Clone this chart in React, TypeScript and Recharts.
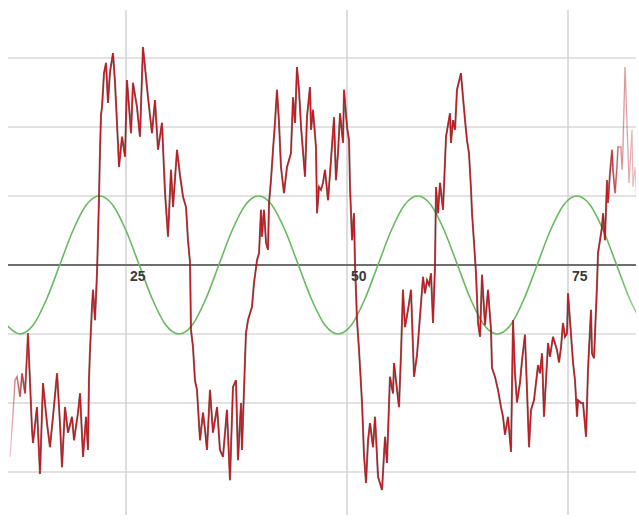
import React from 'react';
import {
  ComposedChart,
  Line,
  XAxis,
  YAxis,
  ReferenceLine,
  Scatter,
} from 'recharts';

// x ticks (vertical grid) and y ticks (horizontal grid)
const xTicks = [25, 50, 75];
const xTickLabels = ['25', '50', '75'];
const yTicks = [-3, -2, -1, 0, 1, 2, 3];

// green reference sine, sampled every 1.5 units starting at x = 11.5
const greenStart = 11.5;
const greenStep = 1.5;
const greenValues = [
  -0.87, -1, -0.87, -0.5, 0, 0.5, 0.87, 1, 0.87, 0.5, 0, -0.5,
  -0.87, -1, -0.87, -0.5, 0, 0.5, 0.87, 1, 0.87, 0.5, 0, -0.5,
  -0.87, -1, -0.87, -0.5, 0, 0.5, 0.87, 1, 0.87, 0.5, 0, -0.5,
  -0.87, -1, -0.87, -0.5, 0, 0.5, 0.87, 1, 0.87, 0.5, 0, -0.5,
  -0.87,
];

// noisy red signal, [x, y]
const redPoints: [number, number][] = [
  [11.88, -2.78], [12.22, -2.14], [12.44, -1.67], [12.67, -1.62], [13.01, -1.91], [13.24, -1.57],
  [13.58, -1.86], [13.91, -0.99], [14.37, -2.39], [14.48, -2.58], [14.93, -2.06], [15.27, -3.03],
  [15.61, -1.71], [16.06, -2.29], [16.4, -2.64], [16.74, -2.2], [17.2, -1.57], [17.53, -2.29],
  [17.76, -2.93], [18.1, -2.06], [18.44, -2.43], [18.89, -2.2], [19.12, -2.54], [19.57, -2.14],
  [19.8, -1.86], [20.14, -2.78], [20.48, -2.2], [20.7, -2.68], [20.81, -1.67], [20.93, -1.23],
  [21.15, -0.61], [21.27, -0.36], [21.49, -0.8], [21.72, -0.12], [21.95, 0.99], [22.06, 1.67],
  [22.17, 2.17], [22.29, 2.29], [22.51, 2.78], [22.74, 2.93], [22.96, 2.35], [23.19, 2.8],
  [23.53, 3.07], [23.76, 2.64], [24.09, 1.77], [24.21, 1.42], [24.55, 1.86], [24.89, 1.57],
  [25.11, 2.68], [25.57, 1.91], [25.79, 2.64], [26.24, 2.29], [26.58, 1.86], [26.92, 3.16],
  [27.49, 2.43], [27.94, 1.91], [28.28, 2.39], [28.62, 1.67], [29.07, 2.06], [29.41, 1.06],
  [29.75, 0.41], [30.09, 1.38], [30.32, 0.84], [30.77, 1.67], [31.11, 1.3], [31.45, 0.99],
  [31.79, 0.84], [32.01, 0.36], [32.24, 0.04], [32.35, -0.94], [32.58, -1.19], [32.8, -1.67],
  [33.03, -1.81], [33.37, -2.54], [33.71, -2.14], [33.94, -2.39], [34.16, -2.68], [34.5, -1.81],
  [34.84, -2.43], [35.3, -2.06], [35.63, -2.68], [35.97, -2.78], [36.42, -2.1], [36.76, -3.12],
  [37.1, -1.77], [37.44, -1.67], [37.67, -2.83], [38.01, -2.0], [38.12, -2.68], [38.46, -1.38],
  [38.57, -0.99], [38.8, -0.8], [39.03, -0.7], [39.25, -0.61], [39.48, -0.26], [39.82, 0.07],
  [40.05, 0.17], [40.27, 0.8], [40.38, 0.41], [40.61, 0.8], [40.84, 0.32], [41.06, 0.22],
  [41.18, 0.9], [41.4, 1.23], [41.63, 1.67], [41.85, 2.06], [42.08, 2.54], [42.31, 2.06],
  [42.53, 1.42], [42.87, 1.04], [43.21, 1.42], [43.66, 1.62], [43.89, 2.43], [44.12, 2.06],
  [44.34, 2.87], [44.57, 2.54], [44.8, 2.0], [45.25, 1.28], [45.47, 2.14], [45.81, 2.58],
  [45.93, 1.96], [46.15, 2.25], [46.49, 1.71], [46.61, 0.75], [46.83, 1.13], [47.06, 1.09],
  [47.28, 1.19], [47.51, 1.38], [47.85, 0.94], [48.08, 1.33], [48.53, 2.14], [48.75, 1.23],
  [48.98, 1.62], [49.21, 2.2], [49.55, 1.77], [49.66, 2.54], [50.0, 2.0], [50.23, 1.81],
  [50.34, 1.13], [50.57, 0.36], [50.79, 0.75], [50.9, 0.03], [51.13, -0.8], [51.36, -1.23],
  [51.7, -2.0], [51.92, -2.75], [52.15, -3.16], [52.38, -2.54], [52.6, -2.29], [52.94, -2.64],
  [53.17, -2.2], [53.51, -3.07], [53.96, -3.26], [54.3, -2.49], [54.52, -2.87], [54.86, -1.62],
  [55.2, -1.86], [55.32, -1.42], [55.66, -1.81], [55.88, -2.06], [56.11, -1.28], [56.33, -0.36],
  [56.56, -0.9], [56.9, -0.65], [57.24, -0.36], [57.58, -1.62], [57.92, -1.3], [58.14, -0.94],
  [58.6, -0.17], [58.82, -0.41], [59.05, -0.22], [59.28, -0.29], [59.5, -0.12], [59.73, -0.84],
  [59.95, -0.03], [60.07, 1.13], [60.29, 0.75], [60.52, 1.19], [60.86, 0.8], [61.2, 1.86],
  [61.65, 2.2], [61.76, 1.77], [61.99, 2.1], [62.22, 1.96], [62.44, 2.54], [62.78, 2.72],
  [62.89, 2.78], [63.12, 2.43], [63.35, 2.1], [63.57, 1.81], [63.8, 1.62], [64.03, 1.09],
  [64.14, 0.75], [64.37, 0.32], [64.59, -0.12], [64.82, -0.84], [65.05, -1.04], [65.27, -0.14],
  [65.61, -0.87], [65.95, -0.36], [66.29, -0.94], [66.4, -1.49], [66.74, -1.62], [67.08, -1.81],
  [67.42, -2.06], [67.65, -2.2], [67.87, -2.46], [68.21, -2.2], [68.55, -2.71], [68.78, -0.8],
  [69.0, -1.57], [69.23, -1.99], [69.57, -1.7], [69.8, -1.38], [70.13, -1.01], [70.36, -1.81],
  [70.59, -2.64], [70.81, -2.1], [71.15, -1.96], [71.61, -1.45], [71.83, -1.57], [72.06, -1.28],
  [72.28, -2.2], [72.74, -1.13], [72.96, -1.33], [73.3, -1.04], [73.75, -1.23], [73.98, -1.41],
  [74.21, -1.19], [74.43, -0.84], [74.66, -1.04], [74.89, -0.99], [75.0, -0.41], [75.34, -1.01],
  [75.57, -1.42], [75.79, -1.67], [76.02, -2.2], [76.13, -1.96], [76.47, -2.0], [76.7, -2.0],
  [77.04, -2.49], [77.26, -1.52], [77.37, -1.23], [77.6, -0.65], [77.71, -1.28], [77.94, -1.35],
  [78.28, -0.29], [78.39, 0.17], [78.62, 0.36], [78.84, 0.55], [78.96, 0.75], [79.18, 0.36],
  [79.41, 1.23], [79.52, 0.9], [79.75, 1.33], [79.98, 1.67], [80.09, 1.38], [80.32, 1.04],
  [80.54, 1.42], [80.66, 1.71], [80.99, 1.71], [81.11, 1.38], [81.22, 1.71], [81.45, 2.87],
  [81.67, 2.06], [81.9, 1.19], [82.24, 1.96], [82.35, 1.13], [82.58, 1.42], [82.8, 0.84],
];

const greenData = greenValues.map((y, i) => ({ x: greenStart + greenStep * i, y }));
const redData = redPoints.map(([x, y]) => ({ x, y }));
const labelData = xTicks.map((x, i) => ({ x, y: 0, label: xTickLabels[i] }));

const LabelShape = (props: any) => {
  const { cx, cy, payload } = props;
  if (cx == null || cy == null) return null;
  return (
    <text
      x={cx + 4}
      y={cy + 16}
      fontSize={14}
      fontWeight={600}
      fontFamily="'Liberation Sans', Arial, sans-serif"
      fill="#3a3a3a"
      textAnchor="start"
    >
      {payload.label}
    </text>
  );
};

export default function App() {
  return (
    <div style={{ position: 'absolute', left: 0, top: 0, width: 639, height: 521, background: '#fff' }}>
      <ComposedChart
        width={639}
        height={521}
        margin={{ top: 10, right: 3, bottom: 6, left: 8 }}
      >
        <defs>
          <linearGradient id="redFade" x1="0" y1="0" x2="1" y2="0">
            <stop offset="0" stopColor="#c8141c" stopOpacity={0.25} />
            <stop offset="0.015" stopColor="#c8141c" stopOpacity={0.6} />
            <stop offset="0.03" stopColor="#c8141c" stopOpacity={1} />
            <stop offset="0.95" stopColor="#c8141c" stopOpacity={1} />
            <stop offset="0.975" stopColor="#c8141c" stopOpacity={0.45} />
            <stop offset="1" stopColor="#c8141c" stopOpacity={0.25} />
          </linearGradient>
          <linearGradient id="darkFade" x1="0" y1="0" x2="1" y2="0">
            <stop offset="0" stopColor="#4a1515" stopOpacity={0} />
            <stop offset="0.03" stopColor="#4a1515" stopOpacity={0.65} />
            <stop offset="0.95" stopColor="#4a1515" stopOpacity={0.65} />
            <stop offset="0.975" stopColor="#4a1515" stopOpacity={0.1} />
            <stop offset="1" stopColor="#4a1515" stopOpacity={0} />
          </linearGradient>
          <linearGradient id="greenFade" x1="0" y1="0" x2="1" y2="0">
            <stop offset="0" stopColor="#66bb5c" stopOpacity={1} />
            <stop offset="0.96" stopColor="#66bb5c" stopOpacity={1} />
            <stop offset="1" stopColor="#66bb5c" stopOpacity={0.5} />
          </linearGradient>
        </defs>
        <XAxis
          type="number"
          dataKey="x"
          domain={[11.652, 82.69]}
          ticks={xTicks}
          allowDataOverflow
          tick={false}
          tickLine={false}
          axisLine={false}
          height={0}
        />
        <YAxis
          type="number"
          dataKey="y"
          domain={[-3.623, 3.696]}
          ticks={yTicks}
          allowDataOverflow
          tick={false}
          tickLine={false}
          axisLine={false}
          width={0}
        />
        {yTicks.filter((t) => t !== 0).map((t) => (
          <ReferenceLine key={'h' + t} y={t} stroke="#d8d8d8" strokeWidth={1.5} />
        ))}
        {xTicks.map((t) => (
          <ReferenceLine key={'v' + t} x={t} stroke="#d2d2d2" strokeWidth={1.5} />
        ))}
        <ReferenceLine y={0} stroke="#6f6f6f" strokeWidth={2.2} />
        <Line
          data={greenData}
          dataKey="y"
          type="monotone"
          stroke="url(#greenFade)"
          strokeWidth={1.6}
          dot={false}
          activeDot={false}
          isAnimationActive={false}
        />
        <Line
          data={redData}
          dataKey="y"
          type="linear"
          stroke="url(#darkFade)"
          strokeWidth={2}
          dot={false}
          activeDot={false}
          isAnimationActive={false}
        />
        <Line
          data={redData}
          dataKey="y"
          type="linear"
          stroke="url(#redFade)"
          strokeWidth={1.1}
          dot={false}
          activeDot={false}
          isAnimationActive={false}
        />
        <Scatter
          data={labelData}
          dataKey="y"
          shape={LabelShape}
          isAnimationActive={false}
        />
      </ComposedChart>
    </div>
  );
}
